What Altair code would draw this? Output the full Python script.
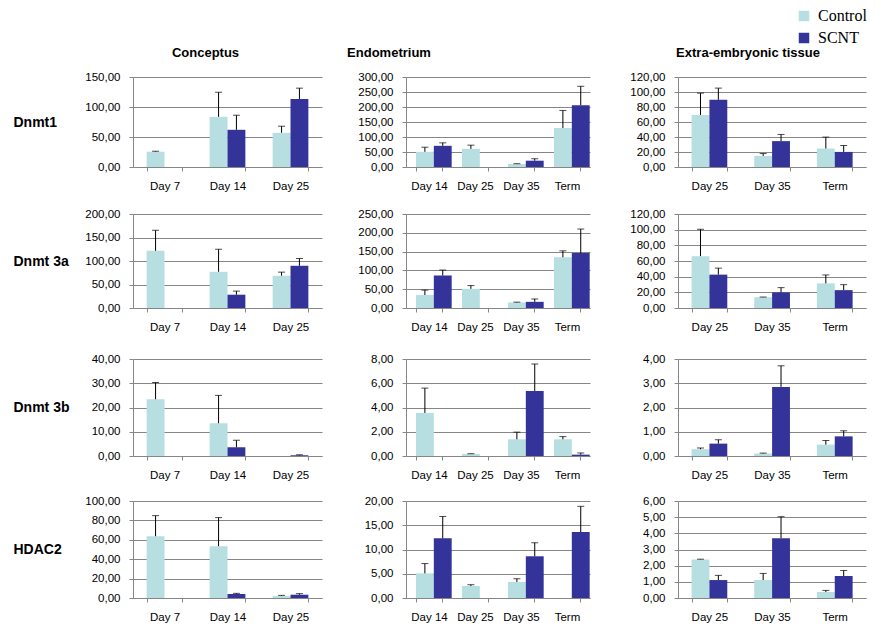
import altair as alt
import pandas as pd

groups = ["Control", "SCNT"]
group_colors = ["#B7DEE1", "#333399"]

conceptus_days = ["Day 7", "Day 14", "Day 25"]
endometrium_days = ["Day 14", "Day 25", "Day 35", "Term"]
extra_days = ["Day 25", "Day 35", "Term"]

tissue_titles = ["Conceptus", "Endometrium", "Extra-embryonic tissue"]
gene_labels = ["Dnmt1", "Dnmt 3a", "Dnmt 3b", "HDAC2"]

# ---- Dnmt1 ----
dnmt1_conceptus_control = [25.5, 83.6, 57.0]
dnmt1_conceptus_control_err = [0.8, 41.0, 11.0]
dnmt1_conceptus_scnt = [None, 62.0, 113.4]
dnmt1_conceptus_scnt_err = [None, 24.3, 18.0]
dnmt1_conceptus_ticks = [0, 50, 100, 150]

dnmt1_endometrium_control = [50.7, 60.6, 10.0, 130.0]
dnmt1_endometrium_control_err = [15.3, 12.2, 1.0, 58.5]
dnmt1_endometrium_scnt = [70.6, None, 21.0, 206.0]
dnmt1_endometrium_scnt_err = [9.9, None, 6.6, 63.0]
dnmt1_endometrium_ticks = [0, 50, 100, 150, 200, 250, 300]

dnmt1_extra_control = [69.4, 14.8, 24.6]
dnmt1_extra_control_err = [29.1, 3.1, 15.3]
dnmt1_extra_scnt = [89.6, 34.5, 20.1]
dnmt1_extra_scnt_err = [15.6, 8.9, 8.6]
dnmt1_extra_ticks = [0, 20, 40, 60, 80, 100, 120]

# ---- Dnmt 3a ----
dnmt3a_conceptus_control = [121.6, 77.0, 68.6]
dnmt3a_conceptus_control_err = [43.8, 48.0, 7.7]
dnmt3a_conceptus_scnt = [None, 28.3, 89.8]
dnmt3a_conceptus_scnt_err = [None, 7.7, 15.5]
dnmt3a_conceptus_ticks = [0, 50, 100, 150, 200]

dnmt3a_endometrium_control = [34.6, 51.0, 14.7, 135.0]
dnmt3a_endometrium_control_err = [13.0, 8.7, 0.9, 17.0]
dnmt3a_endometrium_scnt = [86.5, None, 16.4, 146.0]
dnmt3a_endometrium_scnt_err = [14.5, None, 7.8, 64.0]
dnmt3a_endometrium_ticks = [0, 50, 100, 150, 200, 250]

dnmt3a_extra_control = [66.2, 13.7, 31.4]
dnmt3a_extra_control_err = [34.3, 0.3, 10.8]
dnmt3a_extra_scnt = [42.6, 19.9, 22.8]
dnmt3a_extra_scnt_err = [8.3, 6.1, 7.0]
dnmt3a_extra_ticks = [0, 20, 40, 60, 80, 100, 120]

# ---- Dnmt 3b ----
dnmt3b_conceptus_control = [23.4, 13.5, None]
dnmt3b_conceptus_control_err = [6.9, 11.5, None]
dnmt3b_conceptus_scnt = [None, 3.6, 0.3]
dnmt3b_conceptus_scnt_err = [None, 2.9, 0.2]
dnmt3b_conceptus_ticks = [0, 10, 20, 30, 40]

dnmt3b_endometrium_control = [3.55, 0.17, 1.38, 1.38]
dnmt3b_endometrium_control_err = [2.05, 0.02, 0.59, 0.22]
dnmt3b_endometrium_scnt = [None, None, 5.37, 0.11]
dnmt3b_endometrium_scnt_err = [None, None, 2.22, 0.14]
dnmt3b_endometrium_ticks = [0, 2, 4, 6, 8]

dnmt3b_extra_control = [0.28, 0.10, 0.47]
dnmt3b_extra_control_err = [0.05, 0.02, 0.17]
dnmt3b_extra_scnt = [0.51, 2.85, 0.81]
dnmt3b_extra_scnt_err = [0.16, 0.87, 0.23]
dnmt3b_extra_ticks = [0, 1, 2, 3, 4]

# ---- HDAC2 ----
hdac2_conceptus_control = [63.7, 53.4, 2.0]
hdac2_conceptus_control_err = [21.2, 29.5, 0.7]
hdac2_conceptus_scnt = [None, 4.1, 3.4]
hdac2_conceptus_scnt_err = [None, 0.7, 1.1]
hdac2_conceptus_ticks = [0, 20, 40, 60, 80, 100]

hdac2_endometrium_control = [5.07, 2.47, 3.3, None]
hdac2_endometrium_control_err = [2.03, 0.27, 0.67, None]
hdac2_endometrium_scnt = [12.3, None, 8.6, 13.6]
hdac2_endometrium_scnt_err = [4.5, None, 2.8, 5.3]
hdac2_endometrium_ticks = [0, 5, 10, 15, 20]

hdac2_extra_control = [2.38, 1.11, 0.37]
hdac2_extra_control_err = [0.02, 0.41, 0.10]
hdac2_extra_scnt = [1.11, 3.7, 1.36]
hdac2_extra_scnt_err = [0.29, 1.33, 0.34]
hdac2_extra_ticks = [0, 1, 2, 3, 4, 5, 6]

FONT = "Liberation Sans"
GRID = "#868686"
LABEL_SIZE = 11.5

col_widths = [189, 184, 188]
col_min_extent = [60, 60, 64]
row_heights = [90, 94, 97, 97]
row_gaps = [16, 20, 14]
title_dx = [-22, -109, -24]

LEGEND = alt.Legend(orient="none", legendX=663, legendY=-69, title=None,
                    symbolType="square", symbolSize=110, symbolStrokeWidth=0,
                    labelFont="Liberation Serif", labelFontSize=16,
                    labelColor="#000000", rowPadding=6, labelOffset=6, padding=0)


def make_panel(days, ctrl, ctrl_err, scnt, scnt_err, ticks, width, height,
               min_extent, title=None, tdx=0, row_label=None):
    rows = []
    for i, d in enumerate(days):
        if ctrl[i] is not None:
            rows.append({"day": d, "group": "Control", "value": ctrl[i],
                         "upper": ctrl[i] + ctrl_err[i]})
        if scnt[i] is not None:
            rows.append({"day": d, "group": "SCNT", "value": scnt[i],
                         "upper": scnt[i] + scnt_err[i]})
    df = pd.DataFrame(rows)

    x = alt.X("day:N", sort=days,
              scale=alt.Scale(domain=days, paddingInner=0.433, paddingOuter=0.2165),
              axis=alt.Axis(title=None, labelAngle=0, tickBand="extent",
                            domainColor=GRID, tickColor=GRID, tickSize=4,
                            labelPadding=9, labelFont=FONT, labelFontSize=LABEL_SIZE,
                            labelColor="#000000", grid=False))
    xo = alt.XOffset("group:N", sort=groups,
                     scale=alt.Scale(domain=groups, paddingInner=0, paddingOuter=0))

    axis_kw = dict(values=ticks, grid=True, gridColor=GRID, domainColor=GRID,
                   tickColor=GRID, tickSize=4, labelPadding=9, labelFont=FONT,
                   labelFontSize=LABEL_SIZE, labelColor="#000000",
                   minExtent=min_extent,
                   labelExpr="replace(format(datum.value, '.2f'), '.', ',')")
    if row_label:
        axis_kw.update(title=row_label, titleAngle=0, titleAlign="left",
                       titleBaseline="middle", titleX=-120, titleY=height / 2,
                       titleFont=FONT, titleFontSize=14, titleFontWeight="bold",
                       titleColor="#000000")
    else:
        axis_kw.update(title=None)
    yaxis = alt.Axis(**axis_kw)
    yscale = alt.Scale(domain=[0, ticks[-1]], nice=False, zero=True)

    base = alt.Chart(df)
    bars = base.mark_bar().encode(
        x=x, xOffset=xo,
        y=alt.Y("value:Q", scale=yscale, axis=yaxis),
        color=alt.Color("group:N", sort=groups,
                        scale=alt.Scale(domain=groups, range=group_colors),
                        legend=LEGEND),
    )
    err = base.mark_rule(color="black", strokeWidth=1).encode(
        x=x, xOffset=xo,
        y=alt.Y("value:Q", scale=yscale, axis=yaxis),
        y2="upper:Q",
    )
    cap = base.mark_tick(color="black", size=7, thickness=1).encode(
        x=x, xOffset=xo,
        y=alt.Y("upper:Q", scale=yscale, axis=yaxis),
    )
    props = dict(width=width, height=height)
    if title:
        props["title"] = alt.TitleParams(title, font=FONT, fontSize=13, fontWeight="bold",
                                         color="#000000", anchor="middle", frame="group",
                                         offset=11, dx=tdx)
    return alt.layer(bars, err, cap).properties(**props)


panel_data = [
    [
        (conceptus_days, dnmt1_conceptus_control, dnmt1_conceptus_control_err,
         dnmt1_conceptus_scnt, dnmt1_conceptus_scnt_err, dnmt1_conceptus_ticks),
        (endometrium_days, dnmt1_endometrium_control, dnmt1_endometrium_control_err,
         dnmt1_endometrium_scnt, dnmt1_endometrium_scnt_err, dnmt1_endometrium_ticks),
        (extra_days, dnmt1_extra_control, dnmt1_extra_control_err,
         dnmt1_extra_scnt, dnmt1_extra_scnt_err, dnmt1_extra_ticks),
    ],
    [
        (conceptus_days, dnmt3a_conceptus_control, dnmt3a_conceptus_control_err,
         dnmt3a_conceptus_scnt, dnmt3a_conceptus_scnt_err, dnmt3a_conceptus_ticks),
        (endometrium_days, dnmt3a_endometrium_control, dnmt3a_endometrium_control_err,
         dnmt3a_endometrium_scnt, dnmt3a_endometrium_scnt_err, dnmt3a_endometrium_ticks),
        (extra_days, dnmt3a_extra_control, dnmt3a_extra_control_err,
         dnmt3a_extra_scnt, dnmt3a_extra_scnt_err, dnmt3a_extra_ticks),
    ],
    [
        (conceptus_days, dnmt3b_conceptus_control, dnmt3b_conceptus_control_err,
         dnmt3b_conceptus_scnt, dnmt3b_conceptus_scnt_err, dnmt3b_conceptus_ticks),
        (endometrium_days, dnmt3b_endometrium_control, dnmt3b_endometrium_control_err,
         dnmt3b_endometrium_scnt, dnmt3b_endometrium_scnt_err, dnmt3b_endometrium_ticks),
        (extra_days, dnmt3b_extra_control, dnmt3b_extra_control_err,
         dnmt3b_extra_scnt, dnmt3b_extra_scnt_err, dnmt3b_extra_ticks),
    ],
    [
        (conceptus_days, hdac2_conceptus_control, hdac2_conceptus_control_err,
         hdac2_conceptus_scnt, hdac2_conceptus_scnt_err, hdac2_conceptus_ticks),
        (endometrium_days, hdac2_endometrium_control, hdac2_endometrium_control_err,
         hdac2_endometrium_scnt, hdac2_endometrium_scnt_err, hdac2_endometrium_ticks),
        (extra_days, hdac2_extra_control, hdac2_extra_control_err,
         hdac2_extra_scnt, hdac2_extra_scnt_err, hdac2_extra_ticks),
    ],
]

rows_charts = []
for r, row in enumerate(panel_data):
    panels = []
    for c, (days, ct, cte, sc, sce, ticks) in enumerate(row):
        panels.append(make_panel(
            days, ct, cte, sc, sce, ticks,
            width=col_widths[c], height=row_heights[r], min_extent=col_min_extent[c],
            title=tissue_titles[c] if r == 0 else None, tdx=title_dx[c],
            row_label=gene_labels[r] if c == 0 else None,
        ))
    rows_charts.append(alt.hconcat(*panels, spacing=24))

lower = alt.vconcat(rows_charts[2], rows_charts[3], spacing=row_gaps[2])
middle = alt.vconcat(rows_charts[1], lower, spacing=row_gaps[1])
chart = (
    alt.vconcat(rows_charts[0], middle, spacing=row_gaps[0])
    .properties(padding={"left": 5, "top": 0, "right": 5, "bottom": 5},
                background="white")
    .configure_view(stroke=None)
)

chart.save("out.html", embed_options={"renderer": "svg", "actions": False})
